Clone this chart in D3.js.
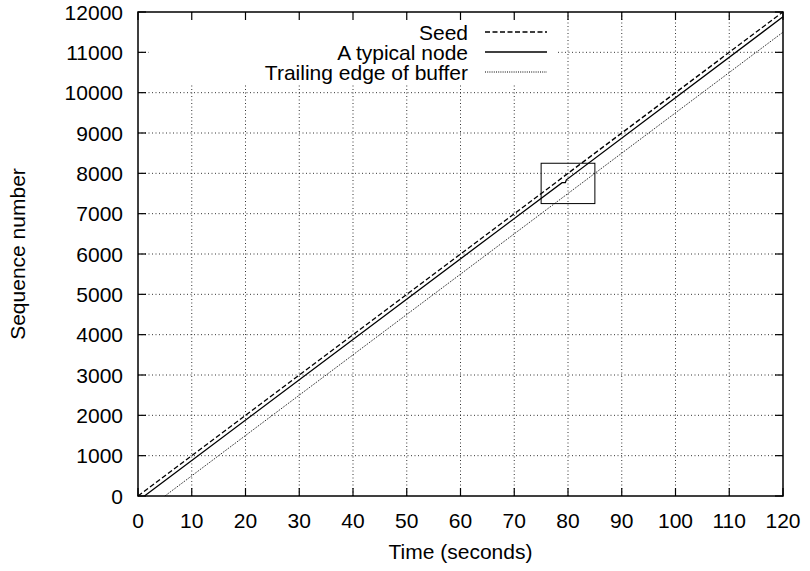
<!DOCTYPE html>
<html><head><meta charset="utf-8">
<script src="https://cdn.jsdelivr.net/npm/d3@7"></script>
<style>body{margin:0;background:#fff}svg{display:block}text{font-family:"Liberation Sans",Arial,Helvetica,sans-serif;fill:#000}</style>
</head><body>
<script>
const xTicks = [0,10,20,30,40,50,60,70,80,90,100,110,120];
const yTicks = [0,1000,2000,3000,4000,5000,6000,7000,8000,9000,10000,11000,12000];
const seedT = [0,120];
const seedV = [0,12000];
const nodeT = [1.2,78.9,79.5,79.7,120];
const nodeV = [0,7770,7770,7840,11880];
const trailT = [5,120];
const trailV = [0,11500];
const boxT = [75,85];
const boxV = [7250,8250];
const seriesNames = ["Seed","A typical node","Trailing edge of buffer"];

const W=810,H=571, m={l:138,r:27,t:12,b:75};
const svg=d3.select("body").append("svg").attr("width",W).attr("height",H);
const x=d3.scaleLinear().domain([0,120]).range([m.l,W-m.r]);
const y=d3.scaleLinear().domain([0,12000]).range([H-m.b,m.t]);
const FS=21;

// grid
const g=svg.append("g");
g.selectAll(".vg").data(xTicks.slice(1,-1)).join("line")
 .attr("x1",d=>x(d)).attr("x2",d=>x(d)).attr("y1",y(0)).attr("y2",y(12000))
 .attr("stroke","#000").attr("stroke-width",0.8).attr("stroke-dasharray","1,2.5");
g.selectAll(".hg").data(yTicks.slice(1,-1)).join("line")
 .attr("x1",x(0)).attr("x2",x(120)).attr("y1",d=>y(d)).attr("y2",d=>y(d))
 .attr("stroke","#000").attr("stroke-width",0.8).attr("stroke-dasharray","1,2.5");
// legend background
svg.append("rect").attr("x",149).attr("y",y(12000)+1).attr("width",409).attr("height",70).attr("fill","#fff");

// ticks (inward, mirrored)
const tl=8;
const tk=svg.append("g").attr("stroke","#000").attr("stroke-width",1.2);
xTicks.forEach(d=>{
 tk.append("line").attr("x1",x(d)).attr("x2",x(d)).attr("y1",y(0)).attr("y2",y(0)-tl);
 tk.append("line").attr("x1",x(d)).attr("x2",x(d)).attr("y1",y(12000)).attr("y2",y(12000)+tl);
});
yTicks.forEach(d=>{
 tk.append("line").attr("x1",x(0)).attr("x2",x(0)+tl).attr("y1",y(d)).attr("y2",y(d));
 tk.append("line").attr("x1",x(120)).attr("x2",x(120)-tl).attr("y1",y(d)).attr("y2",y(d));
});
svg.append("g").selectAll("text").data(xTicks).join("text")
 .attr("x",d=>x(d)).attr("y",y(0)+32).attr("text-anchor","middle").attr("font-size",FS).text(d=>d);
svg.append("g").selectAll("text").data(yTicks).join("text")
 .attr("x",x(0)-15).attr("y",d=>y(d)+7.5).attr("text-anchor","end").attr("font-size",FS).text(d=>d);

// box
svg.append("rect").attr("x",x(boxT[0])).attr("y",y(boxV[1])).attr("width",x(boxT[1])-x(boxT[0])).attr("height",y(boxV[0])-y(boxV[1]))
 .attr("fill","none").attr("stroke","#000").attr("stroke-width",1);

// series
const line=d3.line().x(d=>x(d[0])).y(d=>y(d[1]));
const styles=[{dash:"5,2.5",w:1.3},{dash:null,w:1.3},{dash:"1,1.2",w:1}];
const series=[d3.zip(seedT,seedV),d3.zip(nodeT,nodeV),d3.zip(trailT,trailV)];
series.forEach((s,i)=>{
 svg.append("path").attr("d",line(s)).attr("fill","none").attr("stroke","#000")
  .attr("stroke-width",styles[i].w).attr("stroke-dasharray",styles[i].dash);
});
// legend
seriesNames.forEach((n,i)=>{
 const yy=32+i*20;
 svg.append("text").attr("x",468).attr("y",yy+7.5).attr("text-anchor","end").attr("font-size",FS).text(n);
 svg.append("line").attr("x1",485).attr("x2",547).attr("y1",yy).attr("y2",yy).attr("stroke","#000")
  .attr("stroke-width",styles[i].w).attr("stroke-dasharray",styles[i].dash);
});

// frame
svg.append("rect").attr("x",x(0)).attr("y",y(12000)).attr("width",x(120)-x(0)).attr("height",y(0)-y(12000))
 .attr("fill","none").attr("stroke","#000").attr("stroke-width",1.5);

// axis titles
svg.append("text").attr("x",(x(0)+x(120))/2).attr("y",559).attr("text-anchor","middle").attr("font-size",FS).text("Time (seconds)");
svg.append("text").attr("transform",`translate(25,${(y(0)+y(12000))/2}) rotate(-90)`).attr("text-anchor","middle").attr("font-size",FS).text("Sequence number");
</script>
</body></html>
